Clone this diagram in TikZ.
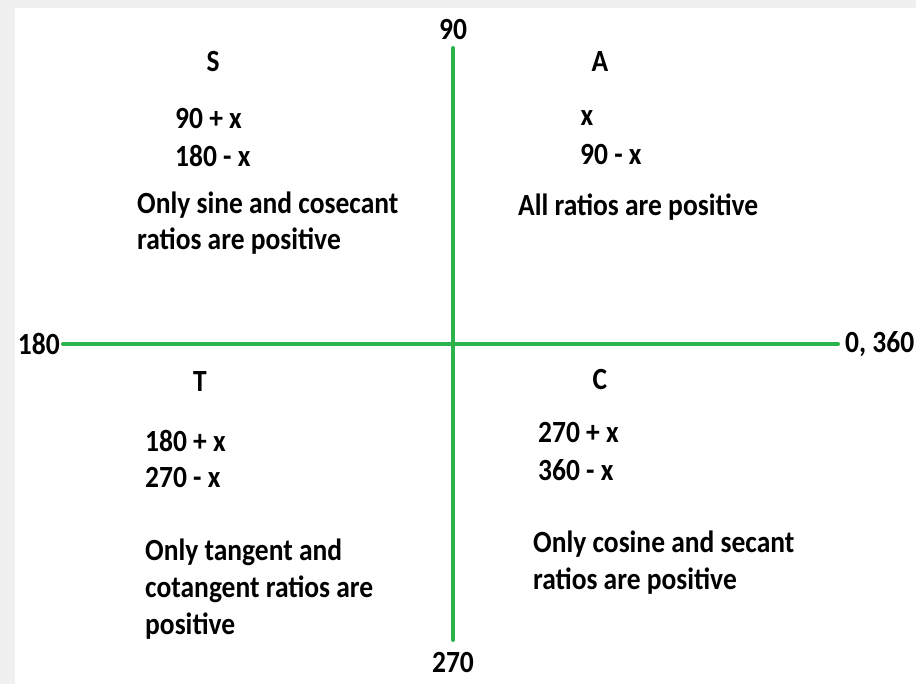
\documentclass[tikz,border=0pt]{standalone}
\usepackage{fontspec}
\usepackage{graphicx}
\setmainfont{Carlito}
\definecolor{axisgreen}{RGB}{43,178,74}
\definecolor{bggray}{RGB}{240,240,240}
\newcommand{\tx}[1]{\scalebox{1}[1.12]{#1}}
\begin{document}
\begin{tikzpicture}[x=1pt,y=-1pt,
  lbl/.style={font=\bfseries\fontsize{27.5}{32}\selectfont, inner sep=0pt, text=black},
  axis/.style={draw=axisgreen, line width=4pt, line cap=round}]
\useasboundingbox (0,0) rectangle (916,684);
\fill[bggray] (0,0) rectangle (916,684);
\fill[white] (15,8) rectangle (916,684);
\coordinate (top) at (453,48);
\coordinate (bot) at (453,640);
\coordinate (lft) at (63,344);
\coordinate (rgt) at (838,344);
\draw[axis] (top) -- (bot);
\draw[axis] (lft) -- (rgt);
\node[lbl] (n90) at (453,30) {\tx{90}};
\node[lbl] (n270) at (453,663) {\tx{270}};
\node[lbl, anchor=east] (n180) at (60,344) {\tx{180}};
\node[lbl, anchor=west] (n0) at (845,344) {\tx{0, 360}};
\node[lbl] (S) at (213,62) {\tx{S}};
\node[lbl] (A) at (600,62) {\tx{A}};
\node[lbl] (T) at (200,382) {\tx{T}};
\node[lbl] (C) at (600,380) {\tx{C}};
\node[lbl, anchor=west] (s1) at (175,119) {\tx{90 + x}};
\node[lbl, anchor=west] (s2) at (175,156) {\tx{180 - x}};
\node[lbl, anchor=west] (s3) at (137,205) {\tx{Only sine and cosecant}};
\node[lbl, anchor=west] (s4) at (137,241) {\tx{ratios are positive}};
\node[lbl] (a1) at (587,118) {\tx{x}};
\node[lbl, anchor=west] (a2) at (580,155) {\tx{90 - x}};
\node[lbl, anchor=west] (a3) at (518,207) {\tx{All ratios are positive}};
\node[lbl, anchor=west] (t1) at (145,441) {\tx{180 + x}};
\node[lbl, anchor=west] (t2) at (145,478) {\tx{270 - x}};
\node[lbl, anchor=west] (t3) at (145,552) {\tx{Only tangent and}};
\node[lbl, anchor=west] (t4) at (145,589) {\tx{cotangent ratios are}};
\node[lbl, anchor=west] (t5) at (145,626) {\tx{positive}};
\node[lbl, anchor=west] (c1) at (538,433) {\tx{270 + x}};
\node[lbl, anchor=west] (c2) at (538,470) {\tx{360 - x}};
\node[lbl, anchor=west] (c3) at (533,544) {\tx{Only cosine and secant}};
\node[lbl, anchor=west] (c4) at (533,581) {\tx{ratios are positive}};
\end{tikzpicture}
\end{document}
